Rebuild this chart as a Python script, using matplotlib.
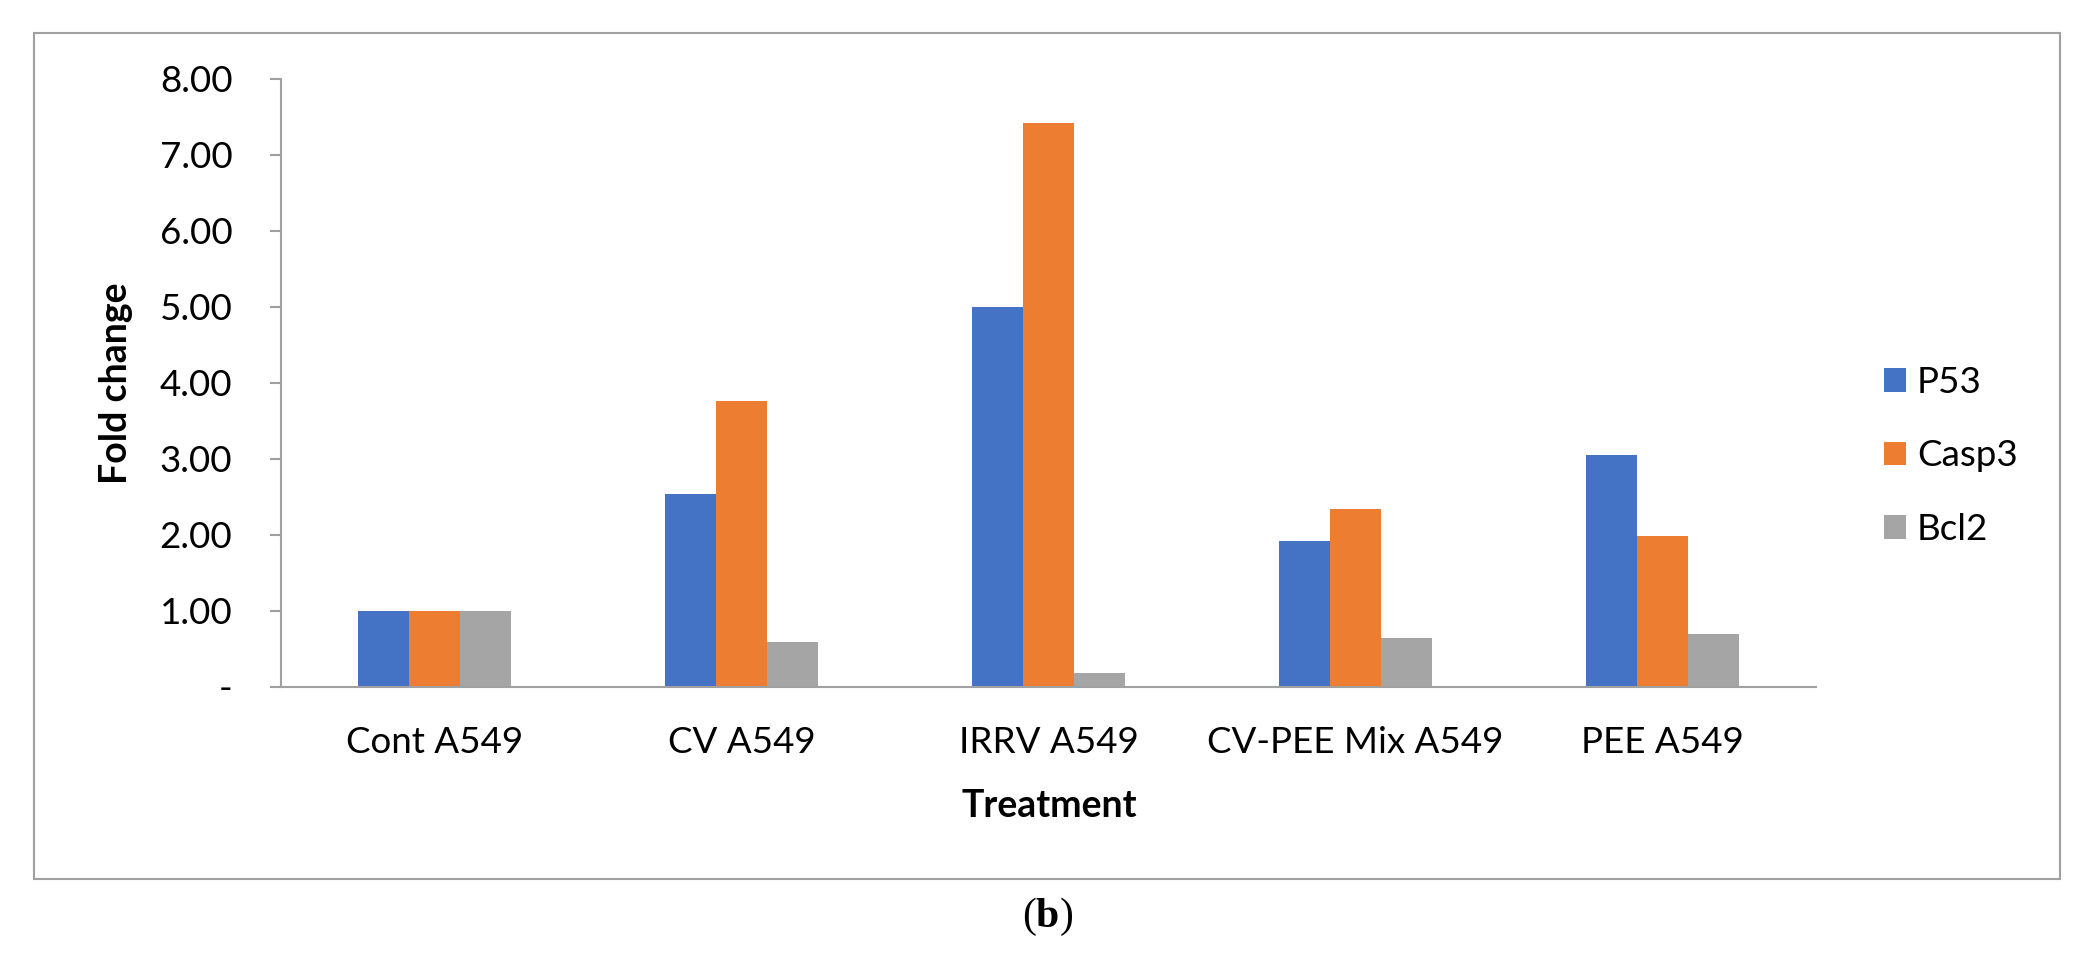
import numpy as np
import matplotlib.pyplot as plt
from matplotlib.patches import Rectangle

plt.rcParams['font.family'] = ['Lato', 'DejaVu Sans']
plt.rcParams['mathtext.fontset'] = 'custom'
plt.rcParams['mathtext.rm'] = 'Liberation Serif'
plt.rcParams['mathtext.bf'] = 'Liberation Serif:bold'

# ─── Data ───────────────────────────────────────────────────────────
treatments = ['Cont A549', 'CV A549', 'IRRV A549', 'CV-PEE Mix A549', 'PEE A549']
p53 = [1.00, 2.54, 5.00, 1.92, 3.05]
casp3 = [1.00, 3.76, 7.42, 2.34, 1.99]
bcl2 = [1.00, 0.59, 0.18, 0.65, 0.70]
series_names = ['P53', 'Casp3', 'Bcl2']
yticks = [0, 1, 2, 3, 4, 5, 6, 7, 8]
ytick_labels = ['-', '1.00', '2.00', '3.00', '4.00', '5.00', '6.00', '7.00', '8.00']

colors = ['#4472C4', '#ED7D31', '#A5A5A5']
axis_grey = '#A0A0A0'

W, H = 2096, 957
fig = plt.figure(figsize=(W / 100, H / 100), dpi=100)
ax = fig.add_axes([281 / W, 1 - 687 / H, 1535 / W, 608 / H])

x = np.arange(len(treatments))
bw = 51 / 307
for k, vals in enumerate([p53, casp3, bcl2]):
    ax.bar(x + (k - 1) * bw, vals, width=bw, color=colors[k],
           label=series_names[k], zorder=2)

ax.set_xlim(-0.5, len(treatments) - 0.5)
ax.set_ylim(0, 8)
ax.set_yticks(yticks)
ax.set_yticklabels(ytick_labels)
ax.set_xticks(x)
ax.set_xticklabels(treatments)

for side in ['top', 'right']:
    ax.spines[side].set_visible(False)
for side in ['left', 'bottom']:
    ax.spines[side].set_color(axis_grey)
    ax.spines[side].set_linewidth(1.5)

ax.tick_params(axis='y', length=8, width=1.5, color=axis_grey, pad=27,
               labelsize=26.5)
ax.tick_params(axis='x', length=0, pad=47.5, labelsize=26.5)
for lab in ax.get_xticklabels():
    lab.set_va('baseline')

# axis titles
fig.text(1049 / W, 1 - 817 / H, 'Treatment', ha='center', va='baseline',
         fontsize=27, fontweight='bold')
fig.text(116 / W, 1 - 383 / H, 'Fold change', ha='center', va='center',
         rotation=90, fontsize=27, fontweight='bold')

ax.legend(loc='center left', bbox_to_anchor=(1884 / W, 1 - 456 / H),
          bbox_transform=fig.transFigure, frameon=False, fontsize=26.5,
          handlelength=0.6, handleheight=0.6, handletextpad=0.3,
          labelspacing=1.1, borderpad=0, borderaxespad=0)

# outer frame and panel label
fig.patches.append(Rectangle((34 / W, 1 - 879 / H), (2060 - 34) / W,
                             (879 - 33) / H, transform=fig.transFigure,
                             fill=False, edgecolor=axis_grey, linewidth=1.5))
fig.text(1048 / W, 1 - 927 / H, r'$(\mathbf{b})$', ha='center',
         va='baseline', fontsize=30)

plt.savefig('out.png', dpi=100)
